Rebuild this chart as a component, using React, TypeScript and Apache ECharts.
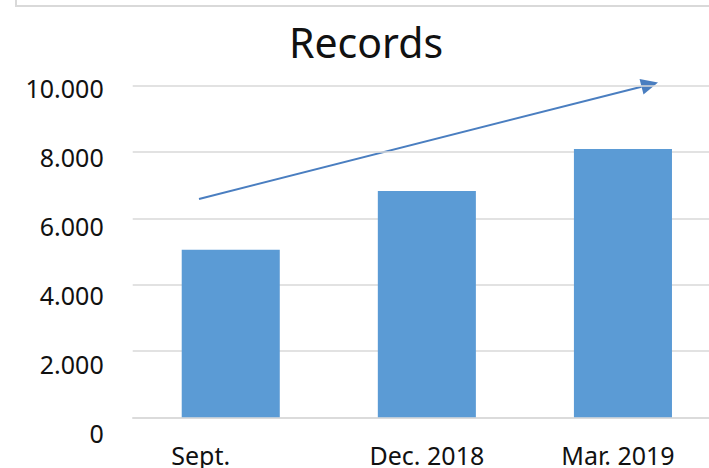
import React, { useEffect, useRef } from "react";
import * as echarts from "echarts";

const categories = ["Sept.", "Dec. 2018", "Mar. 2019"];
const records = [5050, 6825, 8090];
const yTicks = [0, 2000, 4000, 6000, 8000, 10000];
const titleText = "Records";

const FONT = "'Noto Sans', sans-serif";

export default function App() {
  const ref = useRef<HTMLDivElement>(null);
  useEffect(() => {
    if (!ref.current) return;
    const chart = echarts.init(ref.current, null, { renderer: "svg" });

    // arrow geometry (decorative trend arrow)
    const sx = 199, sy = 199, tx = 658, ty = 82.5;
    const dx = tx - sx, dy = ty - sy;
    const len = Math.sqrt(dx * dx + dy * dy);
    const ux = dx / len, uy = dy / len;
    const hl = 17, hw = 8;
    const bx = tx - hl * ux, by = ty - hl * uy;
    const nx = -uy, ny = ux;

    const yRich: any = {};
    yTicks.forEach((_, i) => {
      const d = 1.8 + 2.7 * (yTicks.length - 1 - i);
      yRich["k" + i] = { padding: [2 * d, 0, 0, 0], fontSize: 25, fontFamily: FONT, color: "#111" };
    });

    const xLabelStyle = { fontSize: 25, fontFamily: FONT, color: "#111" };

    chart.setOption({
      animation: false,
      backgroundColor: "#fff",
      title: {
        text: titleText,
        left: 361,
        textAlign: "center",
        top: 16,
        textStyle: { fontFamily: FONT, fontSize: 41, fontWeight: "normal", color: "#111" },
      },
      grid: { left: 132.7, top: 85.7, right: 0, bottom: 50.7 },
      xAxis: {
        type: "category",
        data: categories,
        axisLine: { lineStyle: { color: "#d9d9d9", width: 1.5 } },
        axisTick: { show: false },
        axisLabel: {
          margin: 25,
          interval: 0,
          fontFamily: FONT,
          fontSize: 25,
          color: "#111",
          formatter: (v: string) => {
            const i = categories.indexOf(v);
            if (i === 0) return "{s|" + v + "}";
            if (i === 2) return "{m|" + v + "}";
            return v;
          },
          rich: {
            s: { ...xLabelStyle, padding: [0, 60, 0, 0] },
            m: { ...xLabelStyle, padding: [0, 10, 0, 0] },
          },
        },
      },
      yAxis: {
        type: "value",
        min: 0,
        max: 10000,
        interval: 2000,
        axisLine: { show: false },
        axisTick: { show: false },
        splitLine: { lineStyle: { color: "#d9d9d9", width: 1.5 } },
        axisLabel: {
          margin: 29,
          fontFamily: FONT,
          fontSize: 25,
          color: "#111",
          formatter: (v: number) => {
            const i = yTicks.indexOf(v);
            const t = v === 0 ? "0" : v / 1000 + ".000";
            return "{k" + i + "|" + t + "}";
          },
          rich: yRich,
        },
      },
      series: [
        {
          type: "bar",
          data: records,
          barWidth: "50%",
          itemStyle: { color: "#5B9BD5" },
        },
      ],
      graphic: [
        {
          type: "polyline",
          shape: { points: [[16, 0], [16, 6], [709, 6]] },
          style: { stroke: "#d9d9d9", lineWidth: 2, fill: null },
        },
        {
          type: "line",
          shape: { x1: sx, y1: sy, x2: bx, y2: by },
          style: { stroke: "#4A7EC0", lineWidth: 2 },
        },
        {
          type: "polygon",
          shape: {
            points: [
              [tx, ty],
              [bx + hw * nx, by + hw * ny],
              [bx - hw * nx, by - hw * ny],
            ],
          },
          style: { fill: "#4A7EC0" },
        },
      ],
    });
    return () => chart.dispose();
  }, []);
  return (
    <div
      ref={ref}
      style={{ position: "fixed", left: 0, top: 0, width: 720.7, height: 468, background: "#fff" }}
    />
  );
}
